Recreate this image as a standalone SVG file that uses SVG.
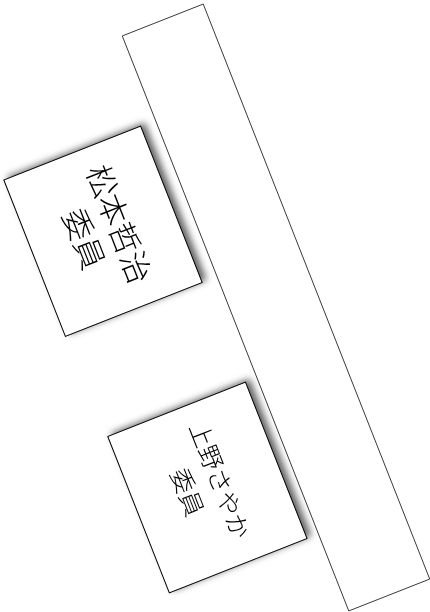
<svg xmlns="http://www.w3.org/2000/svg" width="430" height="612" viewBox="0 0 430 612">
<style>
.lane{fill:#fff;stroke:#222;stroke-width:0.8}
.box{fill:#fff;stroke:#000;stroke-width:1}
.t{font-family:"Noto Sans CJK JP","Noto Sans CJK SC",sans-serif;font-weight:300;text-anchor:middle;dominant-baseline:central;fill:#000}
</style>
<defs>
<filter id="sh" x="-20%" y="-20%" width="140%" height="140%">
<feDropShadow dx="4" dy="-3" stdDeviation="3.5" flood-color="#000" flood-opacity="0.6"/>
</filter>
</defs>
<g id="lane">
<g transform="translate(276,307.5) rotate(68.5)">
<rect class="lane" x="-309" y="-43.5" width="618" height="87"/>
</g>
</g>
<g id="note-matsumoto" filter="url(#sh)">
<g transform="translate(103,231.25) rotate(68.5)">
<rect class="box" x="-84" y="-73.5" width="168" height="147"/>
<text class="t" font-size="31" x="-1" y="-19.5">松本哲治</text>
<text class="t" font-size="31" x="0" y="18.5">委員</text>
</g>
</g>
<g id="note-ueno" filter="url(#sh)">
<g transform="translate(207.4,487.5) rotate(68.5)">
<rect class="box" x="-84" y="-74" width="168" height="148"/>
<text class="t" font-size="24.5" x="-2" y="-15.5">上野さやか</text>
<text class="t" font-size="24.5" x="-3" y="19">委員</text>
</g>
</g>
</svg>
